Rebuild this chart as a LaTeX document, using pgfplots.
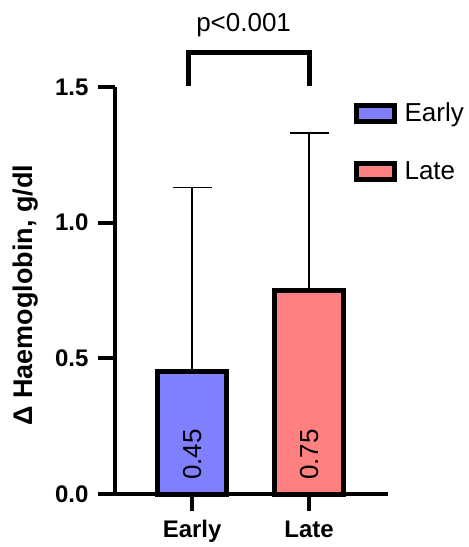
\documentclass[border=0pt]{standalone}
\usepackage{fontspec}
\setmainfont{Liberation Sans}
\usepackage{pgfplots}
\pgfplotsset{compat=1.18}
\definecolor{earlyc}{RGB}{128,128,255}
\definecolor{latec}{RGB}{255,128,128}
\begin{document}
\begin{tikzpicture}
\begin{axis}[
    scale only axis,
    width=273pt, height=407pt,
    xmin=-0.66, xmax=1.675,
    ymin=0, ymax=1.5,
    clip=false,
    axis x line*=bottom, axis y line*=left,
    axis line style={line width=4pt},
    tick align=outside,
    major tick length=17pt,
    every tick/.style={black, line width=4pt},
    xtick={0,1}, xticklabels={Early,Late},
    ytick={0,0.5,1,1.5},
    /pgf/number format/assume math mode=true,
    yticklabel style={xshift=-6pt, /pgf/number format/.cd, fixed, fixed zerofill, precision=1},
    ticklabel style={font=\fontsize{24}{28}\selectfont\bfseries},
    xticklabel style={yshift=-6pt},
    ylabel={Δ Haemoglobin, g/dl},
    every axis y label/.style={at={([xshift=-82pt]rel axis cs:0,0.489)}, rotate=90, anchor=base,
        font=\fontsize{27}{32}\selectfont\bfseries},
    ybar, bar width=69pt,
    legend style={at={(rel axis cs:0.875,0.966)}, anchor=north west, draw=none, fill=none,
        inner sep=0pt, row sep=34pt, font=\fontsize{26}{30}\selectfont, legend cell align=left},
    legend image code/.code={\draw[#1, line width=5pt] (2.5pt,-8pt) rectangle (40.5pt,8pt);
        \path (46pt,0pt);},
]
\addplot[bar shift=0pt, fill=earlyc, draw=black, line width=5pt,
    error bars/.cd, y dir=plus, y explicit,
    error bar style={line width=1.5pt, black},
    error mark options={rotate=90, line width=1.5pt, mark size=19.5pt, black}]
    coordinates {(0,0.45) +- (0,0.68)};
\addplot[bar shift=0pt, fill=latec, draw=black, line width=5pt,
    error bars/.cd, y dir=plus, y explicit,
    error bar style={line width=1.5pt, black},
    error mark options={rotate=90, line width=1.5pt, mark size=19.5pt, black}]
    coordinates {(1,0.75) +- (0,0.58)};
\legend{Early,Late}
\node[rotate=90, anchor=west, inner sep=0pt, font=\fontsize{26}{30}\selectfont] at (axis cs:0,0.052) {0.45};
\node[rotate=90, anchor=west, inner sep=0pt, font=\fontsize{26}{30}\selectfont] at (axis cs:1,0.052) {0.75};
\draw[line width=5pt, miter limit=10] (axis cs:-0.03,1.504) -- (axis cs:-0.03,1.627) -- (axis cs:1,1.627) -- (axis cs:1,1.504);
\node[anchor=base, font=\fontsize{26}{30}\selectfont] at (axis cs:0.44,1.703) {p<0.001};
\coordinate (O) at (rel axis cs:0,0);
\end{axis}
\pgfresetboundingbox
\path ([shift={(-115pt,-53pt)}]O) rectangle ([shift={(354pt,494pt)}]O);
\end{tikzpicture}
\end{document}
